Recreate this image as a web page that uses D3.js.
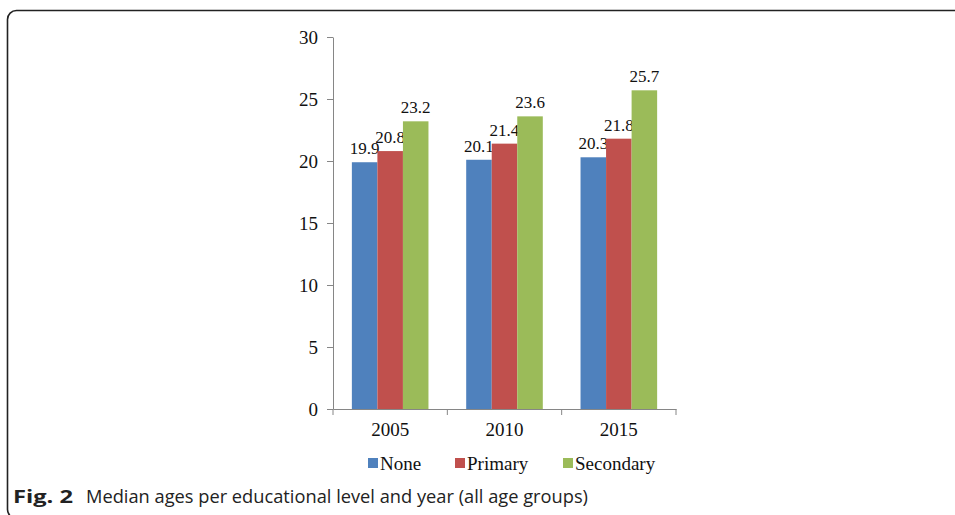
<!DOCTYPE html>
<html><head><meta charset="utf-8">
<script src="https://cdn.jsdelivr.net/npm/d3@7"></script>
<style>body{margin:0;background:#fff}svg{display:block}</style>
</head><body>
<svg id="c" width="955" height="515"></svg>
<script>
const years = ["2005", "2010", "2015"];
const seriesNames = ["None", "Primary", "Secondary"];
const noneVals = [19.9, 20.1, 20.3];
const primaryVals = [20.8, 21.4, 21.8];
const secondaryVals = [23.2, 23.6, 25.7];
const yTicks = [0, 5, 10, 15, 20, 25, 30];
const colors = ["#4F81BD", "#C0504D", "#9BBB59"];
const values = [noneVals, primaryVals, secondaryVals];

const svg = d3.select("#c");
// frame
svg.append("rect").attr("x", 7.5).attr("y", 10.5).attr("width", 1000).attr("height", 508)
  .attr("rx", 9).attr("fill", "none").attr("stroke", "#222").attr("stroke-width", 1.6);

const pLeft = 333, pRight = 676, pTop = 37, pBottom = 409;
const y = d3.scaleLinear().domain([0, 30]).range([pBottom, pTop]);
const x = d3.scaleBand().domain(years).range([pLeft, pRight]);
const bw = x.bandwidth();
const x1 = d3.scaleBand().domain(seriesNames).range([bw * 0.165, bw * 0.835]);

const serif = "'Liberation Serif','Times New Roman',serif";

// y axis
const yAxis = svg.append("g").attr("transform", `translate(${pLeft},0)`)
  .call(d3.axisLeft(y).tickValues(yTicks).tickSize(6).tickPadding(9).tickSizeOuter(0));
yAxis.select(".domain").attr("stroke", "#868686");
yAxis.selectAll(".tick line").attr("stroke", "#868686");
yAxis.selectAll("text").attr("font-family", serif).attr("font-size", 19).attr("fill", "#111");

// bars
const groups = svg.append("g").selectAll("g").data(years).join("g")
  .attr("transform", d => `translate(${x(d)},0)`);
seriesNames.forEach((s, si) => {
  groups.append("rect")
    .attr("x", x1(s)).attr("width", x1.bandwidth())
    .attr("y", (d, i) => y(values[si][i]))
    .attr("height", (d, i) => pBottom - y(values[si][i]))
    .attr("fill", colors[si]);
  groups.append("text")
    .attr("x", x1(s) + x1.bandwidth() / 2)
    .attr("y", (d, i) => y(values[si][i]) - 8)
    .attr("text-anchor", "middle")
    .attr("font-family", serif).attr("font-size", 17).attr("fill", "#111")
    .text((d, i) => values[si][i].toFixed(1));
});

// x axis
const xAxis = svg.append("g").attr("transform", `translate(0,${pBottom})`)
  .call(d3.axisBottom(x).tickSize(0).tickPadding(14));
xAxis.select(".domain").attr("stroke", "#868686");
xAxis.selectAll("text").attr("font-family", serif).attr("font-size", 19).attr("fill", "#111");
const bounds = [pLeft].concat(years.map(d => x(d) + bw));
svg.append("g").selectAll("line").data(bounds).join("line")
  .attr("x1", d => d).attr("x2", d => d).attr("y1", pBottom).attr("y2", pBottom + 6)
  .attr("stroke", "#868686");

// legend
const legendX = [368, 455, 563];
const lg = svg.append("g");
seriesNames.forEach((s, i) => {
  lg.append("rect").attr("x", legendX[i]).attr("y", 458).attr("width", 10).attr("height", 10).attr("fill", colors[i]);
  lg.append("text").attr("x", legendX[i] + 12).attr("y", 470)
    .attr("font-family", serif).attr("font-size", 19).attr("fill", "#111").text(s);
});

// caption
const capFont = "'Open Sans','Noto Sans',sans-serif";
svg.append("text").attr("x", 13).attr("y", 503)
  .attr("font-family", capFont).attr("font-size", 18).attr("font-weight", "bold").attr("fill", "#222")
  .attr("textLength", 60).attr("lengthAdjust", "spacingAndGlyphs")
  .text("Fig. 2");
svg.append("text").attr("x", 86).attr("y", 503)
  .attr("font-family", capFont).attr("font-size", 18).attr("fill", "#222")
  .attr("textLength", 502).attr("lengthAdjust", "spacingAndGlyphs")
  .text("Median ages per educational level and year (all age groups)");
</script>
</body></html>
